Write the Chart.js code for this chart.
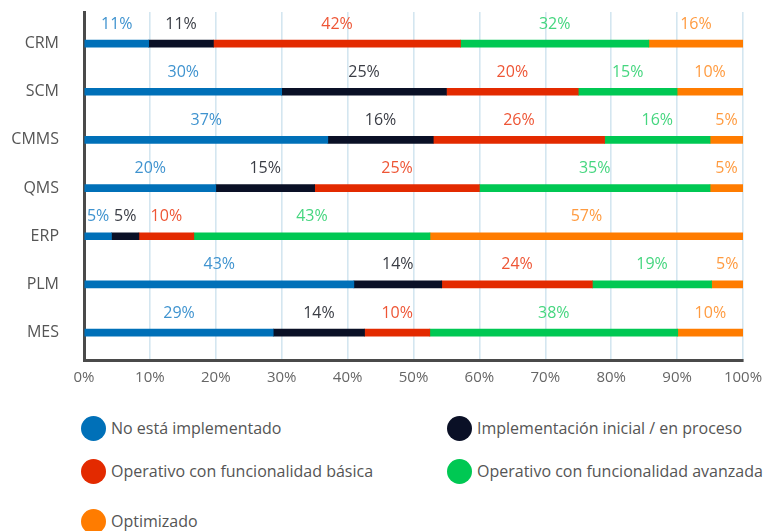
<!DOCTYPE html>
<html lang="es">
<head>
<meta charset="utf-8">
<title>Nivel de implementación por sistema</title>
<script src="https://cdn.jsdelivr.net/npm/chart.js@4.4.1/dist/chart.umd.min.js"></script>
<style>
  html, body { margin: 0; padding: 0; background: #fff; overflow: hidden; }
  body { width: 764px; height: 531px; position: relative; font-family: 'Open Sans', sans-serif; }
  #chartWrap { position: absolute; left: 0; top: 0; width: 764px; height: 400px; }
  .legend-item { position: absolute; display: flex; align-items: center; white-space: nowrap;
                 font-size: 16px; color: #555; }
  .legend-dot { width: 25px; height: 25px; border-radius: 50%; margin-right: 5px; flex: none; }
</style>
</head>
<body>
<div id="chartWrap"><canvas id="chartSistemas"></canvas></div>
<div id="legend"></div>
<script>
// Sistemas (eje Y) y porcentajes tal como aparecen en las etiquetas
const categorias = ['CRM', 'SCM', 'CMMS', 'QMS', 'ERP', 'PLM', 'MES'];
const noImplementado = [11, 30, 37, 20, 5, 43, 29];
const implInicial    = [11, 25, 16, 15, 5, 14, 14];
const operBasica     = [42, 20, 26, 25, 10, 24, 10];
const operAvanzada   = [32, 15, 16, 35, 43, 19, 38];
const optimizado     = [16, 10, 5, 5, 57, 5, 10];
const xTicks = [0, 10, 20, 30, 40, 50, 60, 70, 80, 90, 100];

const series = [
  { label: 'No está implementado', data: noImplementado, color: '#0070b8', text: '#3f93cf' },
  { label: 'Implementación inicial / en proceso', data: implInicial, color: '#0a1026', text: '#3a3d45' },
  { label: 'Operativo con funcionalidad básica', data: operBasica, color: '#e32a00', text: '#ee5535' },
  { label: 'Operativo con funcionalidad avanzada', data: operAvanzada, color: '#00c853', text: '#45d67f' },
  { label: 'Optimizado', data: optimizado, color: '#ff7c00', text: '#ff9b40' }
];

(function () {
  const canvas = document.getElementById('chartSistemas');
  const legendEl = document.getElementById('legend');

  // cada fila se normaliza a 100% (algunas suman más de 100)
  const sumas = categorias.map((_, i) => series.reduce((s, ser) => s + ser.data[i], 0));

  const datasets = series.map(ser => ({
    label: ser.label,
    data: ser.data.map((v, i) => ({ x: v / sumas[i] * 100, y: i })),
    raw: ser.data,
    textColor: ser.text,
    backgroundColor: ser.color,
    borderWidth: 0,
    barThickness: 7
  }));

  // etiquetas encima de cada segmento
  const etiquetas = {
    id: 'etiquetas',
    afterDatasetsDraw(chart) {
      const ctx = chart.ctx;
      ctx.save();
      ctx.font = '16px "Open Sans"';
      ctx.textAlign = 'center';
      ctx.textBaseline = 'middle';
      chart.data.datasets.forEach((ds, di) => {
        const meta = chart.getDatasetMeta(di);
        meta.data.forEach((bar, i) => {
          const cx = (bar.x + bar.base) / 2;
          ctx.fillStyle = ds.textColor;
          ctx.fillText(ds.raw[i] + '%', cx, bar.y - 19.5);
        });
      });
      ctx.restore();
    }
  };

  new Chart(canvas, {
    type: 'bar',
    data: { datasets },
    options: {
      indexAxis: 'y',
      responsive: true,
      maintainAspectRatio: false,
      animation: false,
      layout: { padding: { top: 12, right: 21, left: 0, bottom: 0 } },
      scales: {
        x: {
          type: 'linear',
          stacked: true,
          min: 0,
          max: 100,
          afterBuildTicks: (scale) => { scale.ticks = xTicks.map(v => ({ value: v })); },
          afterFit: (scale) => { scale.height = 39.5; },
          ticks: {
            color: '#666',
            font: { family: 'Open Sans', size: 15 },
            padding: 0,
            maxRotation: 0,
            callback: (v) => v + '%'
          },
          // marca de tick invisible: solo sirve de separación para las etiquetas
          grid: { color: '#d4e6f0', lineWidth: 1.6, drawTicks: true, tickLength: 8, tickColor: 'rgba(0,0,0,0)' },
          border: { display: true, color: '#4a4a4a', width: 3 }
        },
        y: {
          type: 'linear',
          stacked: true,
          reverse: true,
          offset: false,
          min: -0.655,
          max: 6.58,
          afterBuildTicks: (scale) => { scale.ticks = categorias.map((_, i) => ({ value: i })); },
          afterFit: (scale) => { scale.width = 84; },
          ticks: {
            color: '#555',
            font: { family: 'Open Sans', size: 16 },
            padding: 0,
            callback: (v) => categorias[v] ?? ''
          },
          grid: { display: false, drawTicks: true, tickLength: 25 },
          border: { display: true, color: '#4a4a4a', width: 3 }
        }
      },
      plugins: {
        legend: { display: false },
        tooltip: { enabled: false }
      }
    },
    plugins: [etiquetas]
  });

  // leyenda en HTML, dos columnas
  const posiciones = [
    { left: 81, top: 428 }, { left: 447, top: 428 },
    { left: 81, top: 471 }, { left: 447, top: 471 },
    { left: 81, top: 521 }
  ];
  series.forEach((ser, i) => {
    const item = document.createElement('div');
    item.className = 'legend-item';
    item.style.left = posiciones[i].left + 'px';
    item.style.top = (posiciones[i].top - 13) + 'px';
    item.style.height = '26px';
    const dot = document.createElement('span');
    dot.className = 'legend-dot';
    dot.style.background = ser.color;
    const txt = document.createElement('span');
    txt.textContent = ser.label;
    item.appendChild(dot);
    item.appendChild(txt);
    legendEl.appendChild(item);
  });
})();
</script>
</body>
</html>
